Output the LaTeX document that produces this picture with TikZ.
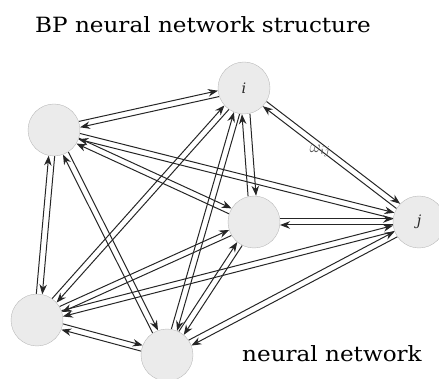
\documentclass[tikz,border=0pt]{standalone}
\usepackage{fontspec}
\setmainfont{DejaVu Serif}
\usepackage{tikz}
\usetikzlibrary{calc,backgrounds,arrows.meta}

\begin{document}
\begin{tikzpicture}[x=1pt,y=-1pt,
    neuron/.style={circle,draw=gray!55,fill=gray!16,minimum size=52pt,inner sep=0pt,
                   font=\Large\itshape,text=gray!30!black},
    link/.style={draw=black!85,line width=1pt,-{Stealth[length=10pt,width=7.5pt]},
                 shorten >=26pt,shorten <=26pt},
    caption/.style={font=\fontsize{21}{25}\selectfont,xscale=1.1,anchor=base west,inner sep=0pt}]
    \useasboundingbox (0,0) rectangle (439,379);

    \node[caption] (title) at (35,33) {BP neural network structure};

    \node[neuron] (ul)  at (54,130)  {};
    \node[neuron] (i)   at (244,88)  {i};
    \node[neuron] (mid) at (254,222) {};
    \node[neuron] (j)   at (419,222) {j};
    \node[neuron] (ll)  at (37,320)  {};
    \node[neuron] (bot) at (167,355) {};

    \node[font=\LARGE,text=gray!70!black] (w) at (320,151) {$\omega_{ij}$};

    \node[caption] (net) at (242,361) {neural network};

%	every pair of neurons gets one line each way

	\begin{scope}[on background layer]
	\draw[link]  ($(ul)!3pt!90:(i)$) -- ($(i)!3pt!-90:(ul)$);
	\draw[link]  ($(i)!3pt!90:(ul)$) -- ($(ul)!3pt!-90:(i)$);

	\draw[link]  ($(ul)!3pt!90:(mid)$) -- ($(mid)!3pt!-90:(ul)$);
	\draw[link]  ($(mid)!3pt!90:(ul)$) -- ($(ul)!3pt!-90:(mid)$);

	\draw[link]  ($(ul)!3pt!90:(j)$) -- ($(j)!3pt!-90:(ul)$);
	\draw[link]  ($(j)!3pt!90:(ul)$) -- ($(ul)!3pt!-90:(j)$);

	\draw[link]  ($(ul)!3pt!90:(ll)$) -- ($(ll)!3pt!-90:(ul)$);
	\draw[link]  ($(ll)!3pt!90:(ul)$) -- ($(ul)!3pt!-90:(ll)$);

	\draw[link]  ($(ul)!3pt!90:(bot)$) -- ($(bot)!3pt!-90:(ul)$);
	\draw[link]  ($(bot)!3pt!90:(ul)$) -- ($(ul)!3pt!-90:(bot)$);


	\draw[link]  ($(i)!4pt!90:(mid)$) -- ($(mid)!4pt!-90:(i)$);
	\draw[link]  ($(mid)!4pt!90:(i)$) -- ($(i)!4pt!-90:(mid)$);

	\draw[link]  ($(i)!3pt!90:(j)$) -- ($(j)!3pt!-90:(i)$);
	\draw[link]  ($(j)!3pt!90:(i)$) -- ($(i)!3pt!-90:(j)$);

	\draw[link]  ($(i)!3pt!90:(ll)$) -- ($(ll)!3pt!-90:(i)$);
	\draw[link]  ($(ll)!3pt!90:(i)$) -- ($(i)!3pt!-90:(ll)$);

	\draw[link]  ($(i)!3pt!90:(bot)$) -- ($(bot)!3pt!-90:(i)$);
	\draw[link]  ($(bot)!3pt!90:(i)$) -- ($(i)!3pt!-90:(bot)$);


	\draw[link]  ($(mid)!3pt!90:(j)$) -- ($(j)!3pt!-90:(mid)$);
	\draw[link]  ($(j)!3pt!90:(mid)$) -- ($(mid)!3pt!-90:(j)$);

	\draw[link]  ($(mid)!3pt!90:(ll)$) -- ($(ll)!3pt!-90:(mid)$);
	\draw[link]  ($(ll)!3pt!90:(mid)$) -- ($(mid)!3pt!-90:(ll)$);

	\draw[link]  ($(mid)!3pt!90:(bot)$) -- ($(bot)!3pt!-90:(mid)$);
	\draw[link]  ($(bot)!3pt!90:(mid)$) -- ($(mid)!3pt!-90:(bot)$);


	\draw[link]  ($(j)!3pt!90:(ll)$) -- ($(ll)!3pt!-90:(j)$);
	\draw[link]  ($(ll)!3pt!90:(j)$) -- ($(j)!3pt!-90:(ll)$);

	\draw[link]  ($(j)!3pt!90:(bot)$) -- ($(bot)!3pt!-90:(j)$);
	\draw[link]  ($(bot)!3pt!90:(j)$) -- ($(j)!3pt!-90:(bot)$);


	\draw[link]  ($(ll)!3pt!90:(bot)$) -- ($(bot)!3pt!-90:(ll)$);
	\draw[link]  ($(bot)!3pt!90:(ll)$) -- ($(ll)!3pt!-90:(bot)$);
	\end{scope}

\end{tikzpicture}
\end{document}
